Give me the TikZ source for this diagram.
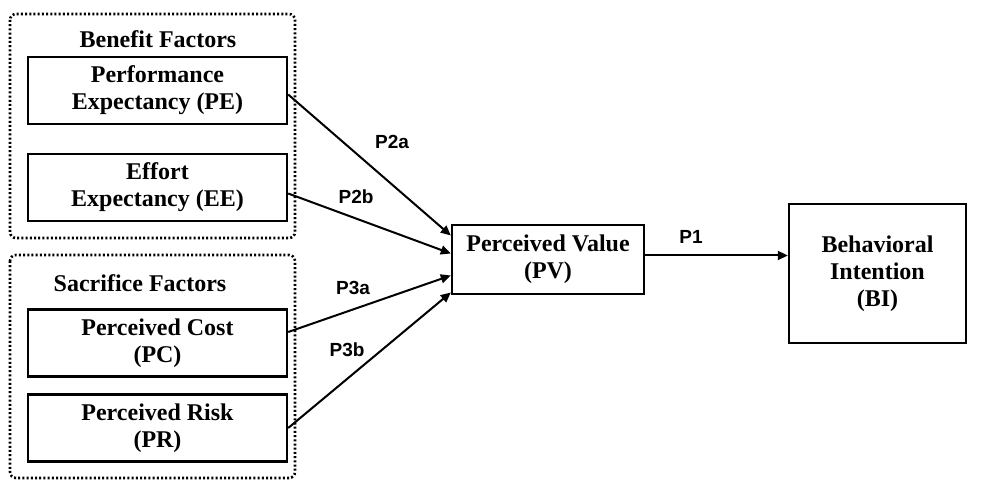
\documentclass[tikz,border=0pt]{standalone}
\usepackage{fontspec}
\setmainfont{Liberation Serif}
\newfontfamily\etiqfont{Liberation Sans}
\usetikzlibrary{arrows.meta}

\begin{document}
\begin{tikzpicture}[x=0.5pt,y=-0.5pt,
        caja/.style={draw, line width=1.2pt, minimum width=129.5pt, minimum height=33.5pt,
            align=center, inner sep=1pt, font=\bfseries\fontsize{12}{13.5}\selectfont},
        titulo/.style={font=\bfseries\fontsize{12}{13.5}\selectfont},
        marco/.style={line width=1.3pt, dash pattern=on 1pt off 1.1pt, rounded corners=3pt},
        flecha/.style={-{Triangle[length=5pt,width=4.5pt]}, line width=1pt},
        etiq/.style={font=\etiqfont\bfseries\fontsize{9.5}{11}\selectfont}]
        \useasboundingbox (0,0) rectangle (982,480);

        % Marcos punteados de los dos grupos
        \draw[marco] (10,14) rectangle (295,238);
        \draw[marco] (10,255) rectangle (295,478);

        % Titulos de los grupos
        \node[titulo] (tben) at (158,39) {Benefit Factors};
        \node[titulo] (tsac) at (140,283) {Sacrifice Factors};

        % Cajas de los factores
        \node[caja] (pe) at (157.5,90.5) {Performance\\Expectancy (PE)};
        \node[caja] (ee) at (157.5,187.5) {Effort\\Expectancy (EE)};
        \node[caja] (pc) at (157.5,343) {Perceived Cost\\(PC)};
        \node[caja] (pr) at (157.5,428) {Perceived Risk\\(PR)};

        % Valor percibido e intencion
        \node[caja, minimum width=96pt, minimum height=34.5pt] (pv) at (548,259.5) {Perceived Value\\(PV)};
        \node[caja, minimum width=88.5pt, minimum height=69.5pt] (bi) at (877.5,273.5) {Behavioral\\Intention\\(BI)};

        % Flechas hacia PV
        \draw[flecha] ([yshift=-2pt]pe.east) -- ([yshift=12pt]pv.west);
        \draw[flecha] ([yshift=-3pt]ee.east) -- ([yshift=3pt]pv.west);
        \draw[flecha] ([yshift=5.5pt]pc.east) -- ([yshift=-8pt]pv.west);
        \draw[flecha] (pr.east) -- ([yshift=-16.5pt]pv.west);

        % Flecha de PV a BI
        \draw[flecha] ([yshift=2pt]pv.east) -- ([yshift=2pt]pv.east -| bi.west);

        % Etiquetas de las hipotesis
        \node[etiq] (p2a) at (392,142) {P2a};
        \node[etiq] (p2b) at (356,197) {P2b};
        \node[etiq] (p3a) at (353,288) {P3a};
        \node[etiq] (p3b) at (347,350) {P3b};
        \node[etiq] (p1) at (691,237) {P1};
    \end{tikzpicture}
\end{document}
